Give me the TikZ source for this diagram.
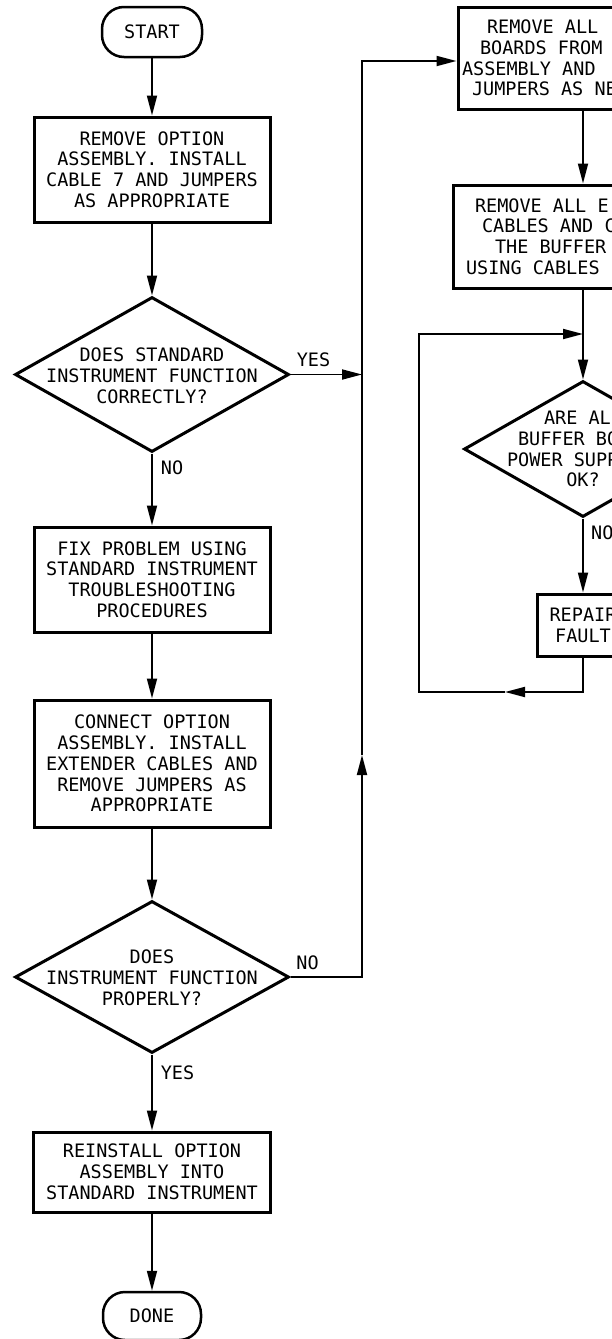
\documentclass[tikz,border=0pt]{standalone}
\usepackage{fontspec}
\newfontfamily\plotfont{DejaVu Sans Mono}
\usetikzlibrary{arrows.meta,shapes.geometric}
\tikzset{
  basefont/.style={font=\plotfont\fontsize{18.5}{20.8}\selectfont},
  box/.style={basefont, draw, line width=3pt, rectangle, align=center, inner sep=0pt},
  term/.style={basefont, draw, line width=2.5pt, rectangle, rounded corners=22pt, inner sep=0pt},
  decision/.style={draw, diamond, line width=3pt, inner sep=0pt},
  txt/.style={basefont, align=center, inner sep=0pt},
  lbl/.style={basefont, inner sep=0pt},
  conn/.style={line width=1.8pt, -{Triangle[length=20pt,width=10pt]}},
}
\begin{document}
\begin{tikzpicture}[x=1pt, y=-1pt]
\useasboundingbox (0,0) rectangle (612,1339);
\clip (0,0) rectangle (612,1339);

% ---------- left column ----------
\node[term, minimum width=100pt, minimum height=50pt] (start) at (152,32) {START};
\node[box, minimum width=236pt, minimum height=105pt] (b1) at (152,169.5)
  {REMOVE OPTION\\ASSEMBLY. INSTALL\\CABLE 7 AND JUMPERS\\AS APPROPRIATE};
\node[decision, minimum width=274pt, minimum height=155pt] (d1) at (152,374.5) {};
\node[txt] (d1t) at (152,376) {DOES STANDARD\\INSTRUMENT FUNCTION\\CORRECTLY?};
\node[box, minimum width=236pt, minimum height=105pt] (b2) at (152,579.5)
  {FIX PROBLEM USING\\STANDARD INSTRUMENT\\TROUBLESHOOTING\\PROCEDURES};
\node[box, minimum width=236pt, minimum height=127pt] (b3) at (152,763.5)
  {CONNECT OPTION\\ASSEMBLY. INSTALL\\EXTENDER CABLES AND\\REMOVE JUMPERS AS\\APPROPRIATE};
\node[decision, minimum width=274pt, minimum height=152pt] (d2) at (152,977) {};
\node[txt] (d2t) at (152,978) {DOES\\INSTRUMENT FUNCTION\\PROPERLY?};
\node[box, minimum width=237pt, minimum height=80pt] (b4) at (152,1172)
  {REINSTALL OPTION\\ASSEMBLY INTO\\STANDARD INSTRUMENT};
\node[term, minimum width=98pt, minimum height=48pt] (done) at (152,1316) {DONE};

\node[lbl] (yes1) at (313.5,360) {YES};
\node[lbl] (no1) at (172,468) {NO};
\node[lbl] (no2) at (307.5,963) {NO};
\node[lbl] (yes2) at (177.5,1073) {YES};

% ---------- right column ----------
\node[box, minimum width=250pt, minimum height=102pt] (r1) at (583,58)
  {\makebox[192pt][l]{REMOVE ALL}\\\makebox[206pt][l]{BOARDS FROM}\\\makebox[242pt][l]{ASSEMBLY AND}\\\makebox[222pt][l]{JUMPERS AS NE}};
\node[box, minimum width=260pt, minimum height=103pt] (r2) at (583,236.5)
  {\makebox[216pt][l]{REMOVE ALL E}\\\makebox[202pt][l]{CABLES AND C}\\\makebox[176pt][l]{THE BUFFER}\\\makebox[234pt][l]{USING CABLES}};
\node[decision, minimum width=238pt, minimum height=136pt] (d3) at (583,449) {};
\node[txt] (d3t) at (583,449) {ARE ALL\\\makebox[130pt][l]{BUFFER BO}\\\makebox[152pt][l]{POWER SUPP}\\OK?};
\node[box, minimum width=92pt, minimum height=62pt] (rep) at (583,625) {REPAIR\\FAULT};
\node[lbl, anchor=west] (no3) at (591,533) {NO};

% ---------- helper coordinates ----------
\coordinate (y1) at (362,374.5);
\coordinate (vt) at (362,61);
\coordinate (vn) at (362,977);
\coordinate (vup) at (362,755);
\coordinate (lb) at (583,692);
\coordinate (la) at (505,692);
\coordinate (lbl) at (419,692);
\coordinate (lt) at (419,334);
\coordinate (lm) at (583,334);

% ---------- connectors ----------
\draw[conn] (start) -- (b1);
\draw[conn] (b1) -- (d1.north);
\draw[conn] (d1.south) -- (b2);
\draw[conn] (b2) -- (b3);
\draw[conn] (b3) -- (d2.north);
\draw[conn] (d2.south) -- (b4);
\draw[conn] (b4) -- (done);
\draw[conn] (d1.east) -- (y1);
\draw[conn] (d2.east) -- (vn) -- (vup);
\draw[conn] (vup) -- (vt) -- (r1.west |- vt);
\draw[conn] (r1) -- (r2);
\draw[conn] (r2) -- (d3.north);
\draw[conn] (d3.south) -- (rep);
\draw[conn] (rep.south) -- (lb) -- (la);
\draw[conn] (la) -- (lbl) -- (lt) -- (lm);
\end{tikzpicture}
\end{document}
